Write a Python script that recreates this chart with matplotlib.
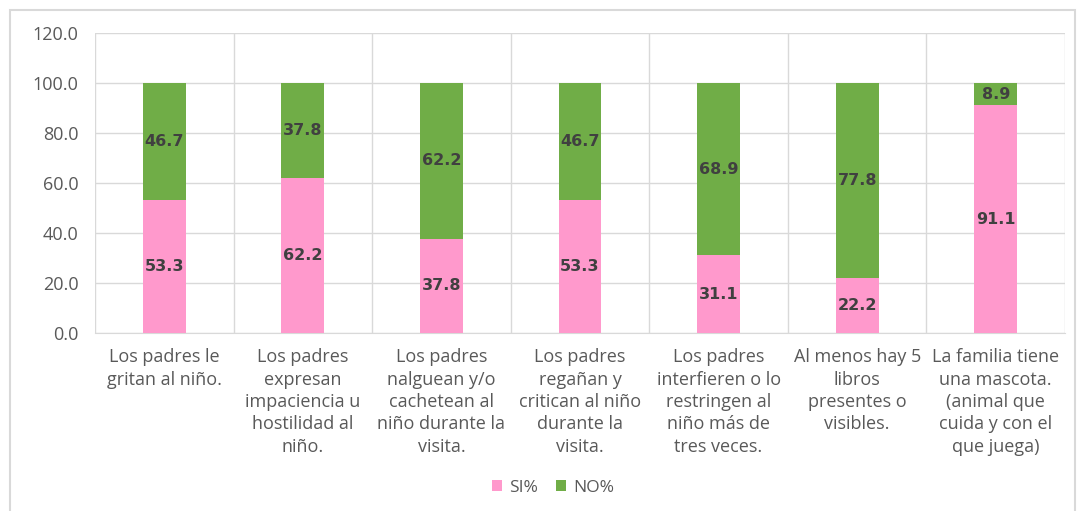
import matplotlib
matplotlib.use("Agg")
import matplotlib.pyplot as plt
from matplotlib.patches import Rectangle
import numpy as np

categories = [
    "Los padres le\ngritan al niño.",
    "Los padres\nexpresan\nimpaciencia u\nhostilidad al\nniño.",
    "Los padres\nnalguean y/o\ncachetean al\nniño durante la\nvisita.",
    "Los padres\nregañan y\ncritican al niño\ndurante la\nvisita.",
    "Los padres\ninterfieren o lo\nrestringen al\nniño más de\ntres veces.",
    "Al menos hay 5\nlibros\npresentes o\nvisibles.",
    "La familia tiene\nuna mascota.\n(animal que\ncuida y con el\nque juega)",
]
si = [53.3, 62.2, 37.8, 53.3, 31.1, 22.2, 91.1]
no = [46.7, 37.8, 62.2, 46.7, 68.9, 77.8, 8.9]
yticks = [0, 20, 40, 60, 80, 100, 120]

pink = "#FF99CC"
green = "#70AD47"
txt = "#595959"

fig = plt.figure(figsize=(10.79, 5.11), dpi=100)
W, H = 1079, 511
ax = fig.add_axes([95 / W, 1 - 333 / H, (1065 - 95) / W, 300 / H])

x = np.arange(len(categories))
bw = 0.31
b1 = ax.bar(x, si, bw, color=pink, label="SI%", zorder=3)
b2 = ax.bar(x, no, bw, bottom=si, color=green, label="NO%", zorder=3)

for xi, s, n in zip(x, si, no):
    ax.text(xi, s / 2, f"{s:.1f}", ha="center", va="center", fontsize=11.5,
            fontweight="bold", color="#404040", zorder=4, family="DejaVu Sans")
    ax.text(xi, s + n / 2, f"{n:.1f}", ha="center", va="center", fontsize=11.5,
            fontweight="bold", color="#404040", zorder=4, family="DejaVu Sans")

ax.set_xlim(-0.5, len(categories) - 0.5)
ax.set_ylim(0, 120)
ax.set_yticks(yticks)
ax.set_yticklabels([f"{v:.1f}" for v in yticks], fontsize=13, color=txt, family="Open Sans")
ax.yaxis.grid(True, color="#D9D9D9", linewidth=1, zorder=0)
for b in np.arange(-0.5, len(categories), 1.0):
    ax.axvline(b, color="#D9D9D9", linewidth=1, zorder=0)
ax.set_xticks(x)
ax.set_xticklabels(categories, fontsize=13, color=txt, family="Open Sans",
                   linespacing=1.31)
ax.tick_params(axis="both", length=0)
ax.tick_params(axis="x", pad=11)
ax.tick_params(axis="y", pad=12)
for s in ["top", "right", "left"]:
    ax.spines[s].set_visible(False)
ax.spines["bottom"].set_color("#D9D9D9")

leg = fig.legend(loc="center", bbox_to_anchor=(553 / W, 1 - 488 / H), ncol=2, frameon=False,
                 handlelength=0.6, handleheight=0.6, columnspacing=1.0,
                 handletextpad=0.4, prop={"family": "Open Sans", "size": 12.5})
for t in leg.get_texts():
    t.set_color(txt)

fig.patches.append(Rectangle((10 / W, -0.05), (1075 - 10) / W, 1 - 10 / H + 0.05,
                             transform=fig.transFigure, fill=False,
                             edgecolor="#D9D9D9", linewidth=1.5))

fig.savefig("out.png", dpi=100)
